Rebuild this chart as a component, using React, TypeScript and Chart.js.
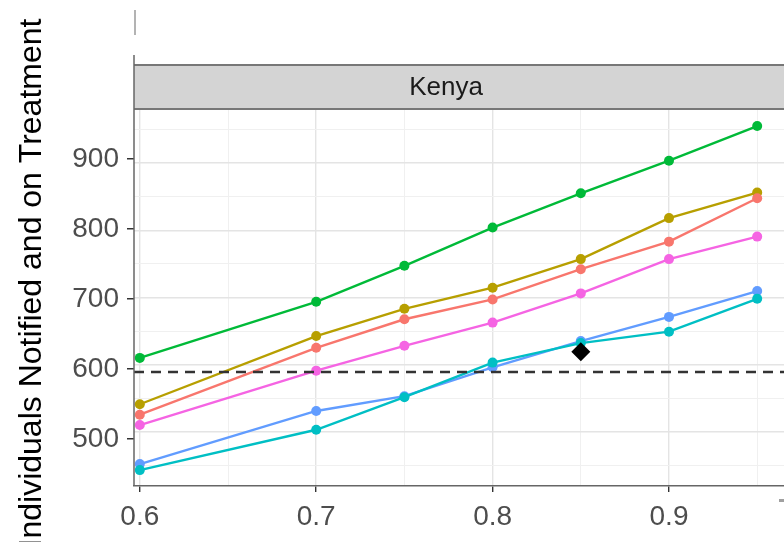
import React, { useEffect, useRef } from "react";
import { Chart, registerables } from "chart.js";

Chart.register(...registerables);

// ---- data ----
const xValues = [0.6, 0.7, 0.75, 0.8, 0.85, 0.9, 0.95];
const seriesNames = ["Series 1", "Series 2", "Series 3", "Series 4", "Series 5", "Series 6"];
const seriesColors = ["#F8766D", "#B79F00", "#00BA38", "#00BFC4", "#619CFF", "#F564E3"];
const redSeries = [525.5, 625, 667.5, 697, 742, 783, 847.5];
const goldSeries = [541, 642.5, 683, 714.5, 757, 818, 856];
const greenSeries = [610, 693.5, 747, 804, 855, 903.5, 955];
const tealSeries = [443, 503, 551.5, 603, 632, 649, 698];
const blueSeries = [452, 531, 553, 596, 635, 671, 709.5];
const magentaSeries = [510, 591, 628, 662.5, 706, 757, 790.5];
const targetValue = 589;
const observedX = [0.85];
const observedY = [619];
const xTicks = [0.6, 0.65, 0.7, 0.75, 0.8, 0.85, 0.9, 0.95];
const xMajor = [0.6, 0.7, 0.8, 0.9];
const yGridTicks = [450, 500, 550, 600, 650, 700, 750, 800, 850, 900, 950];
const yLabelTicks = [500, 600, 700, 800, 900];
const facetLabel = "Kenya";
const yTitle = "Individuals Notified and on Treatment";

const X_MIN = 0.59671;
const X_MAX = 0.9652;
const Y_MIN = 419.35;
const Y_MAX = 978.9;
const YL_MIN = 432.86;
const YL_MAX = 970;

const FONT = "'Liberation Sans', Arial, Helvetica, sans-serif";

const isMajorX = (v: number) => xMajor.some((m) => Math.abs(m - v) < 1e-6);

const extrasPlugin = {
  id: "extras",
  afterDraw(chart: any) {
    const { ctx, chartArea } = chart;
    const L = chartArea.left;
    const T = chartArea.top;
    const B = chartArea.bottom;
    const R = chart.width;
    ctx.save();
    // stub line from a panel above
    ctx.strokeStyle = "#9a9a9a";
    ctx.lineWidth = 1.5;
    ctx.beginPath();
    ctx.moveTo(L + 1, 10);
    ctx.lineTo(L + 1, 35);
    ctx.stroke();
    // strip
    const sTop = T - 46;
    ctx.fillStyle = "#D4D4D4";
    ctx.fillRect(L, sTop, R - L, 46);
    ctx.strokeStyle = "#777777";
    ctx.lineWidth = 2;
    ctx.beginPath();
    ctx.moveTo(L, sTop + 1);
    ctx.lineTo(R, sTop + 1);
    ctx.moveTo(L, T - 1);
    ctx.lineTo(R, T - 1);
    ctx.stroke();
    ctx.fillStyle = "#1A1A1A";
    ctx.font = `26px ${FONT}`;
    ctx.textAlign = "center";
    ctx.textBaseline = "middle";
    ctx.fillText(facetLabel, 446, sTop + 24);
    // left axis line
    ctx.strokeStyle = "#666666";
    ctx.lineWidth = 1.5;
    ctx.beginPath();
    ctx.moveTo(L, 55);
    ctx.lineTo(L, B);
    ctx.stroke();
    // small mark from neighbouring panel
    ctx.fillStyle = "#a0a0a0";
    ctx.fillRect(779, 499, 5, 3);
    // y title
    ctx.translate(41, 283);
    ctx.rotate(-Math.PI / 2);
    ctx.fillStyle = "#000000";
    ctx.font = `32px ${FONT}`;
    ctx.textAlign = "center";
    ctx.textBaseline = "alphabetic";
    ctx.fillText(yTitle, 0, 0);
    ctx.restore();
  },
};

export default function App() {
  const ref = useRef<HTMLCanvasElement | null>(null);
  useEffect(() => {
    if (!ref.current) return;
    const all = [redSeries, goldSeries, greenSeries, tealSeries, blueSeries, magentaSeries];
    const lineSets = all.map((s, i) => ({
      label: seriesNames[i],
      data: xValues.map((x, j) => ({ x, y: s[j] })),
      borderColor: seriesColors[i],
      backgroundColor: seriesColors[i],
      borderWidth: 2.4,
      pointRadius: 5,
      pointBorderWidth: 0,
      pointHoverRadius: 5,
      yAxisID: "y",
      order: 2,
    }));
    const chart = new Chart(ref.current, {
      type: "line",
      data: {
        datasets: [
          ...lineSets,
          {
            label: "Target",
            data: [
              { x: X_MIN, y: targetValue },
              { x: X_MAX, y: targetValue },
            ],
            borderColor: "#333333",
            borderWidth: 2.3,
            borderDash: [10, 7],
            pointRadius: 0,
            yAxisID: "y",
            order: 1,
          },
          {
            label: "Observed",
            data: observedX.map((x, i) => ({ x, y: observedY[i] })),
            showLine: false,
            pointStyle: "rectRot",
            pointRadius: 9.5,
            pointBorderWidth: 0,
            backgroundColor: "#000000",
            borderColor: "#000000",
            yAxisID: "y",
            order: 0,
          },
        ] as any,
      },
      options: {
        animation: false,
        responsive: false,
        events: [],
        layout: { autoPadding: false, padding: { top: 110, right: 0, left: 0, bottom: 0 } },
        plugins: { legend: { display: false }, tooltip: { enabled: false } },
        scales: {
          x: {
            type: "linear",
            min: X_MIN,
            max: X_MAX,
            afterBuildTicks: (s: any) => {
              s.ticks = xTicks.map((v) => ({ value: v }));
            },
            afterFit: (s: any) => {
              s.height = 56;
              s.paddingLeft = 0;
              s.paddingRight = 0;
            },
            grid: {
              color: (c: any) => (isMajorX(c.tick.value) ? "#E4E4E4" : "#F0F0F0"),
              lineWidth: (c: any) => (isMajorX(c.tick.value) ? 1.4 : 1),
              tickColor: (c: any) => (isMajorX(c.tick.value) ? "#333333" : "rgba(0,0,0,0)"),
              tickLength: 6,
              drawTicks: true,
            },
            border: { display: true, color: "#666666", width: 1.5 },
            ticks: {
              autoSkip: false,
              maxRotation: 0,
              padding: 8,
              color: "#4D4D4D",
              font: { size: 28, family: FONT },
              callback: (v: any) => (isMajorX(Number(v)) ? Number(v).toFixed(1) : ""),
            },
          },
          y: {
            type: "linear",
            position: "left",
            min: Y_MIN,
            max: Y_MAX,
            afterBuildTicks: (s: any) => {
              s.ticks = yGridTicks.map((v) => ({ value: v }));
            },
            afterFit: (s: any) => {
              s.width = 0;
              s.paddingTop = 0;
              s.paddingBottom = 0;
            },
            grid: {
              color: (c: any) => (c.tick.value % 100 === 0 ? "#E4E4E4" : "#F0F0F0"),
              lineWidth: (c: any) => (c.tick.value % 100 === 0 ? 1.4 : 1),
              drawTicks: false,
            },
            border: { display: false },
            ticks: { display: false },
          },
          yl: {
            type: "linear",
            position: "left",
            min: YL_MIN,
            max: YL_MAX,
            afterBuildTicks: (s: any) => {
              s.ticks = yLabelTicks.map((v) => ({ value: v }));
            },
            afterFit: (s: any) => {
              s.width = 134;
              s.paddingTop = 0;
              s.paddingBottom = 0;
            },
            grid: {
              drawOnChartArea: false,
              drawTicks: true,
              tickLength: 7,
              tickColor: "#333333",
              lineWidth: 1.5,
            },
            border: { display: false },
            ticks: {
              padding: 8,
              color: "#4D4D4D",
              font: { size: 28, family: FONT },
            },
          },
        },
      } as any,
      plugins: [extrasPlugin],
    });
    return () => chart.destroy();
  }, []);
  return (
    <div style={{ position: "fixed", left: 0, top: 0, width: 784, height: 542, background: "#fff" }}>
      <canvas ref={ref} width={784} height={542} style={{ display: "block" }} />
    </div>
  );
}
